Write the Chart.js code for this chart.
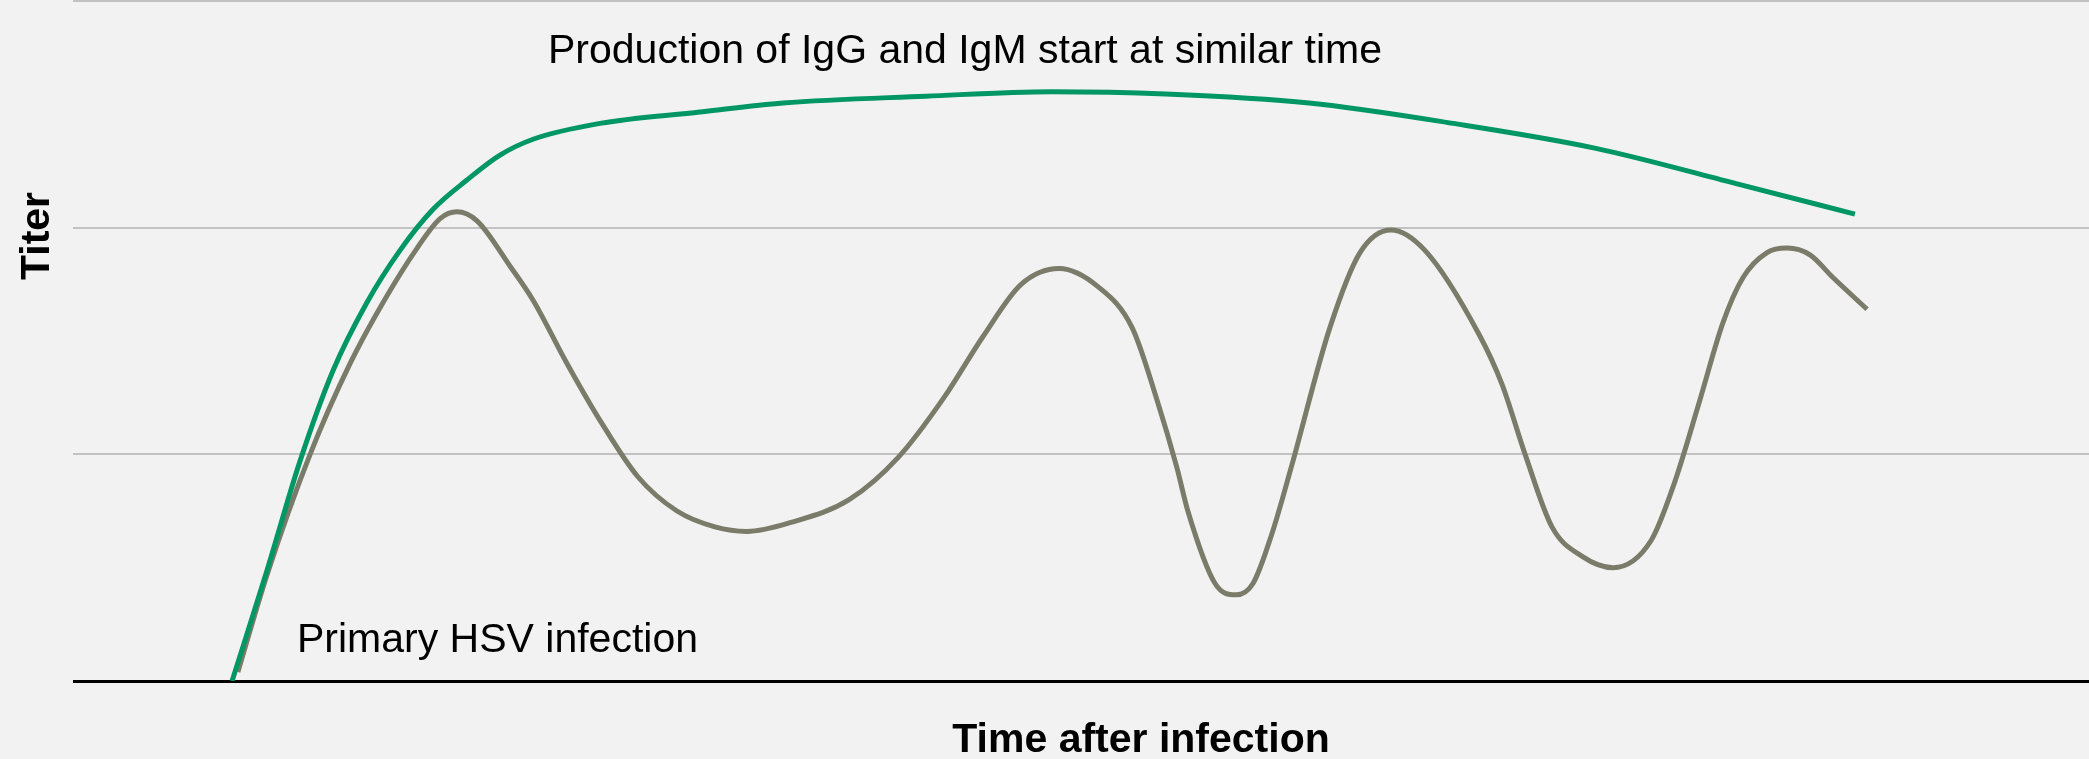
<!DOCTYPE html>
<html>
<head>
<meta charset="utf-8">
<title>Titer after primary HSV infection</title>
<script src="https://cdn.jsdelivr.net/npm/chart.js@4.4.1/dist/chart.umd.min.js"></script>
<style>
  html, body { margin: 0; padding: 0; background: #f2f2f3; }
  #wrap { width: 2089px; height: 759px; }
</style>
</head>
<body>
<div id="wrap"><canvas id="myChart" width="2089" height="759"></canvas></div>
<script>
  // time after infection (arbitrary units, 0..100) and titer (arbitrary units, 0..3)
  const antibodyTime = [7.89, 9.63, 11.26, 12.90, 14.58, 16.22, 17.85, 19.54, 21.18, 22.82, 26.14, 31.10, 35.22, 42.31, 48.51, 54.21, 61.31, 68.46, 75.54, 82.69, 88.39];
  const antibodyTiter = [0, 0.49, 0.97, 1.37, 1.67, 1.9, 2.08, 2.21, 2.32, 2.39, 2.46, 2.51, 2.55, 2.58, 2.6, 2.59, 2.55, 2.46, 2.35, 2.19, 2.06];

  const virusTime = [8.18, 9.63, 11.76, 13.74, 15.38, 17.07, 18.21, 19.04, 20.04, 21.68, 22.82, 24.51, 26.14, 28.03, 29.96, 31.84, 33.43, 35.62, 38.50, 40.97, 43.20, 45.14, 47.03, 48.91, 50.84, 52.53, 53.77, 54.76, 55.30, 56.65, 57.69, 58.53, 59.47, 60.42, 62.35, 63.84, 65.38, 67.06, 69.74, 70.88, 72.03, 73.36, 74.86, 76.39, 78.28, 79.42, 80.70, 81.84, 82.84, 84.03, 85.02, 86.16, 87.30, 88.99];
  const virusTiter = [0.04, 0.47, 1.0, 1.4, 1.67, 1.91, 2.04, 2.07, 2.03, 1.83, 1.68, 1.4, 1.15, 0.9, 0.75, 0.68, 0.66, 0.7, 0.8, 0.99, 1.25, 1.52, 1.75, 1.82, 1.74, 1.56, 1.24, 0.94, 0.75, 0.43, 0.38, 0.43, 0.65, 0.94, 1.56, 1.89, 1.99, 1.9, 1.53, 1.31, 1.0, 0.68, 0.55, 0.5, 0.62, 0.87, 1.24, 1.58, 1.78, 1.89, 1.91, 1.88, 1.78, 1.64];

  const gridValues = [0, 1, 2, 3];

  const toPoints = (xs, ys) => xs.map((v, i) => ({ x: v, y: ys[i] }));

  const textPlugin = {
    id: 'texts',
    beforeDraw(chart) {
      const ctx = chart.ctx;
      ctx.save();
      ctx.fillStyle = '#f2f2f3';
      ctx.fillRect(0, 0, chart.width, chart.height);
      ctx.restore();
    },
    afterDraw(chart, args, opts) {
      const { ctx, chartArea, scales } = chart;
      ctx.save();
      ctx.fillStyle = '#000';
      ctx.textAlign = 'left';
      ctx.textBaseline = 'alphabetic';
      ctx.font = '41px "Liberation Sans", Arial, sans-serif';
      opts.notes.forEach(n => {
        ctx.fillText(n.text, scales.x.getPixelForValue(n.x), scales.y.getPixelForValue(n.y));
      });

      ctx.font = 'bold 41px "Liberation Sans", Arial, sans-serif';
      ctx.textAlign = 'center';
      ctx.fillText(opts.xTitle, chartArea.left + 1068, chartArea.bottom + 71);

      // y title, reads bottom to top
      ctx.translate(chartArea.left - 24, chartArea.top + 235);
      ctx.rotate(-Math.PI / 2);
      ctx.fillText(opts.yTitle, 0, 0);
      ctx.restore();
    }
  };

  const data = {
    datasets: [{
      label: 'IgG / IgM',
      data: toPoints(antibodyTime, antibodyTiter),
      borderColor: '#009764',
      borderWidth: 5,
      pointRadius: 0,
      cubicInterpolationMode: 'monotone',
      fill: false
    }, {
      label: 'HSV',
      data: toPoints(virusTime, virusTiter),
      borderColor: '#7b7b6a',
      borderWidth: 5,
      pointRadius: 0,
      cubicInterpolationMode: 'monotone',
      fill: false
    }]
  };

  const config = {
    type: 'line',
    data,
    plugins: [textPlugin],
    options: {
      responsive: false,
      animation: false,
      devicePixelRatio: 1,
      layout: { padding: { left: 73, right: 0, top: 1, bottom: 78 } },
      plugins: {
        legend: { display: false },
        tooltip: { enabled: false },
        texts: {
          notes: [
            { text: 'Production of IgG and IgM start at similar time', x: 23.56, y: 2.727 },
            { text: 'Primary HSV infection', x: 11.11, y: 0.128 }
          ],
          xTitle: 'Time after infection',
          yTitle: 'Titer'
        }
      },
      scales: {
        x: {
          type: 'linear',
          min: 0,
          max: 100,
          display: false
        },
        y: {
          min: 0,
          max: 3,
          afterBuildTicks: scale => { scale.ticks = gridValues.map(v => ({ value: v })); },
          ticks: { display: false },
          border: { display: false },
          grid: {
            drawTicks: false,
            color: c => c.tick.value === 0 ? '#000' : '#c2c2c2',
            lineWidth: c => c.tick.value === 0 ? 3 : 2
          }
        }
      }
    }
  };

  const myChart = new Chart(document.getElementById('myChart'), config);
</script>
</body>
</html>
